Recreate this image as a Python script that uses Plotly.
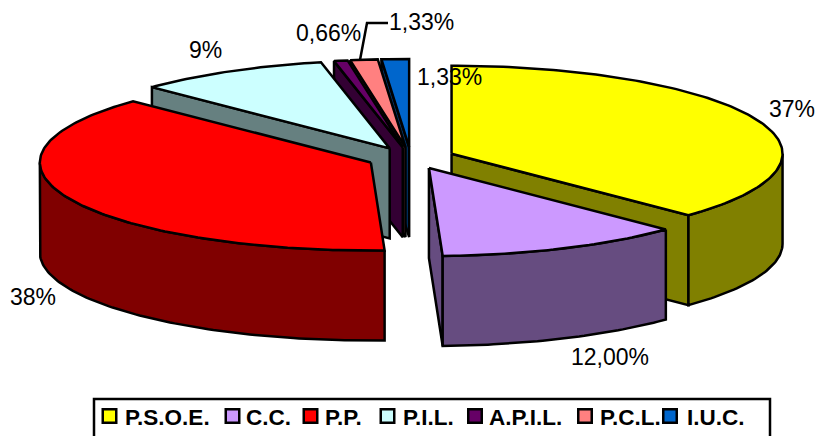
import math
import plotly.graph_objects as go

# values, the printed labels are rounded
partidos = ["P.S.O.E.", "C.C.", "P.P.", "P.I.L.", "A.P.I.L.", "P.C.L.", "I.U.C."]
porcentajes = [37.2, 12, 37.8, 9.4, 0.66, 1.33, 1.33]
colores = ["#FFFF00", "#CC99FF", "#FF0000", "#CCFFFF", "#660066", "#FF8080", "#0066CC"]
oscuros = ["#808000", "#664C80", "#800000", "#668080", "#330033", "#804040", "#003366"]
etiquetas = ["37%", "12,00%", "38%", "9%", "0,66%", "1,33%", "1,33%"]

# fake 3d pie: ellipse in pixels, page is 819x436
CX, CY = 411, 158
RX, RY = 331, 88
EX, EY = 44, 11
DEPTH = 90
LW = 2.5
# paint order, back to front
orden = [0, 6, 5, 4, 3, 2, 1]


def rim(cx, cy, a):
    t = math.radians(a)
    return cx + RX * math.sin(t), cy - RY * math.cos(t)


def arc(cx, cy, a0, a1, dy=0):
    n = max(2, int(abs(a1 - a0)) + 2)
    pts = [rim(cx, cy, a0 + (a1 - a0) * i / (n - 1)) for i in range(n)]
    return [p[0] for p in pts], [p[1] + dy for p in pts]


def poly(xs, ys, fill, name):
    return go.Scatter(x=xs + xs[:1], y=ys + ys[:1], mode="lines", fill="toself", fillcolor=fill,
                      line=dict(color="black", width=LW), showlegend=False, hoverinfo="skip", name=name)


total = sum(porcentajes)
angulos = []
acum = 0
for v in porcentajes:
    angulos.append((acum, acum + v / total * 360))
    acum += v / total * 360

fig = go.Figure()
for i in orden:
    a0, a1 = angulos[i]
    mid = math.radians((a0 + a1) / 2)
    cx = CX + EX * math.sin(mid)
    cy = CY - EY * math.cos(mid)
    # flat cut walls, only when they face the viewer
    if 180 < a0 < 360:
        x, y = rim(cx, cy, a0)
        fig.add_trace(poly([cx, x, x, cx], [cy, y, y + DEPTH, cy + DEPTH], oscuros[i], partidos[i]))
    if 0 < a1 < 180:
        x, y = rim(cx, cy, a1)
        fig.add_trace(poly([cx, x, x, cx], [cy, y, y + DEPTH, cy + DEPTH], oscuros[i], partidos[i]))
    # curved outer wall
    w0, w1 = max(a0, 90), min(a1, 270)
    if w0 < w1:
        xs, ys = arc(cx, cy, w0, w1)
        xb, yb = arc(cx, cy, w1, w0, DEPTH)
        fig.add_trace(poly(xs + xb, ys + yb, oscuros[i], partidos[i]))
    # top face
    xs, ys = arc(cx, cy, a0, a1)
    fig.add_trace(poly([cx] + xs, [cy] + ys, colores[i], partidos[i]))

posiciones = [(792, 109), (610, 357), (33, 297), (205, 50), (328, 33), (449, 77), (421, 22)]
for txt, (x, y) in zip(etiquetas, posiciones):
    fig.add_annotation(x=x, y=y, text=txt, showarrow=False, font=dict(size=23, color="black"))

# leader line of the P.C.L. label
fig.add_shape(type="path", path="M 360 60 L 367 23 L 388 23", line=dict(color="black", width=LW))

# legend by hand, the built in one cannot get this tight; box runs off the bottom of the page
fig.add_shape(type="rect", x0=94, y0=399, x1=770, y1=450, line=dict(color="black", width=2.5))
caja_x = [109.5, 232.5, 310.5, 387.5, 475, 585, 670]
texto_x = [123, 244, 323, 401, 487, 598, 685]
fig.add_trace(go.Scatter(x=caja_x, y=[416] * 7, mode="markers", showlegend=False, hoverinfo="skip",
                         marker=dict(symbol="square", size=13.5, color=colores,
                                     line=dict(color="black", width=2.5))))
for nombre, x in zip(partidos, texto_x):
    fig.add_annotation(x=x, y=417, text="<b>%s</b>" % nombre, showarrow=False, xanchor="left",
                       font=dict(size=22.5, color="black"))

fig.update_layout(
    width=819, height=436, margin=dict(l=0, r=0, t=0, b=0),
    paper_bgcolor="white", plot_bgcolor="white",
    font=dict(family="Liberation Sans", color="black"),
    xaxis=dict(range=[0, 819], visible=False, fixedrange=True),
    yaxis=dict(range=[436, 0], visible=False, fixedrange=True),
    showlegend=False,
)
fig.write_html("out.html", post_script="document.body.style.margin='0';",
               config=dict(displayModeBar=False))
